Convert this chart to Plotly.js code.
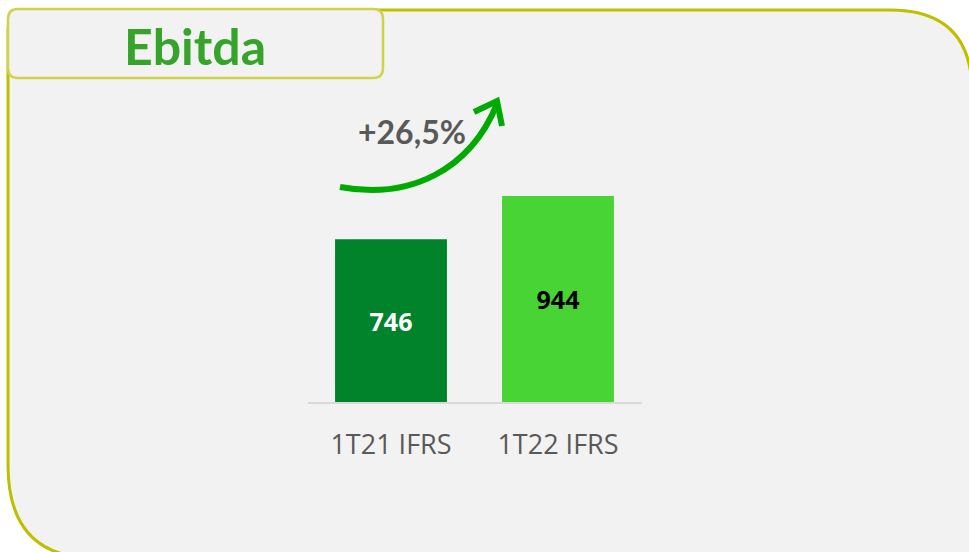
<!DOCTYPE html>
<html>
<head>
<meta charset="utf-8">
<script src="https://cdn.plot.ly/plotly-3.0.1.min.js"></script>
<style>html,body{margin:0;padding:0;background:#fff;}#chart{width:969px;height:552px;}</style>
</head>
<body>
<div id="chart"></div>
<script>
// Data
const categories = ["1T21 IFRS", "1T22 IFRS"];
const ebitdaValues = [746, 944];
const barColors = ["#00832a", "#48d434"];
const labelColors = ["#ffffff", "#000000"];
const chartTitle = "Ebitda";
const growthLabel = "+26,5%";

const W = 969, H = 552;
const px = x => x / W;
const py = y => 1 - y / H;

const trace = {
  type: "bar",
  x: categories,
  y: ebitdaValues,
  marker: { color: barColors },
  text: ebitdaValues.map(String),
  textposition: "inside",
  insidetextanchor: "middle",
  textangle: 0,
  constraintext: "none",
  textfont: { family: "Open Sans, sans-serif", size: 25, color: labelColors, weight: "bold" },
  hoverinfo: "skip",
  cliponaxis: false
};

function P(x, y) { return px(x).toFixed(5) + "," + py(y).toFixed(5); }

const bigBox = "M " + P(8, 100) + " L " + P(8, 465) +
  " Q " + P(8, 558) + " " + P(95, 558) + " L " + P(1000, 558) +
  " L " + P(1000, 92) + " L " + P(972, 92) + " Q " + P(972, 10) + " " + P(890, 10) +
  " L " + P(30, 10) + " Q " + P(8, 10) + " " + P(8, 30) + " Z";

const titleBox = "M " + P(18, 9) + " L " + P(373, 9) + " Q " + P(383, 9) + " " + P(383, 19) +
  " L " + P(383, 68) + " Q " + P(383, 78) + " " + P(373, 78) + " L " + P(18, 78) +
  " Q " + P(8, 78) + " " + P(8, 68) + " L " + P(8, 19) + " Q " + P(8, 9) + " " + P(18, 9) + " Z";

const arrowCurve = "M " + P(340, 187) + " C " + P(410, 200) + " " + P(470, 170) + " " + P(497, 104);
const arrowHead = "M " + P(474, 112) + " L " + P(497, 101) + " L " + P(502, 126);

const layout = {
  width: W, height: H, autosize: false,
  margin: { l: 0, r: 0, t: 0, b: 0, pad: 0 },
  paper_bgcolor: "#ffffff",
  plot_bgcolor: "rgba(0,0,0,0)",
  showlegend: false,
  bargap: 0.33,
  xaxis: {
    domain: [px(307.5), px(641.5)],
    range: [-0.5, 1.5],
    showline: true, linecolor: "#d9d9d9", linewidth: 2,
    showgrid: false, zeroline: false, ticks: "",
    tickfont: { family: "Open Sans, sans-serif", size: 27, color: "#595959" },
    ticklabelstandoff: 18,
    fixedrange: true
  },
  yaxis: {
    domain: [py(402), py(151)],
    range: [0, 1150],
    visible: false, showgrid: false, zeroline: false,
    fixedrange: true
  },
  shapes: [
    { type: "path", xref: "paper", yref: "paper", path: bigBox, fillcolor: "#f2f2f2",
      line: { color: "#bfbf00", width: 3 }, layer: "below" },
    { type: "path", xref: "paper", yref: "paper", path: titleBox, fillcolor: "#f2f2f2",
      line: { color: "#d2d24a", width: 2.5 }, layer: "below" },
    { type: "path", xref: "paper", yref: "paper", path: arrowCurve,
      line: { color: "#00aa00", width: 6 }, layer: "above" },
    { type: "path", xref: "paper", yref: "paper", path: arrowHead,
      line: { color: "#00aa00", width: 6 }, layer: "above" }
  ],
  annotations: [
    { xref: "paper", yref: "paper", x: px(195), y: py(46), text: chartTitle, showarrow: false,
      xanchor: "center", yanchor: "middle",
      font: { family: "Lato, sans-serif", size: 50, color: "#36a32b", weight: "bold" } },
    { xref: "paper", yref: "paper", x: px(412), y: py(132), text: growthLabel, showarrow: false,
      xanchor: "center", yanchor: "middle",
      font: { family: "Lato, sans-serif", size: 32, color: "#595959", weight: "bold" } }
  ]
};

Plotly.newPlot("chart", [trace], layout, { displayModeBar: false, staticPlot: true });
</script>
</body>
</html>
